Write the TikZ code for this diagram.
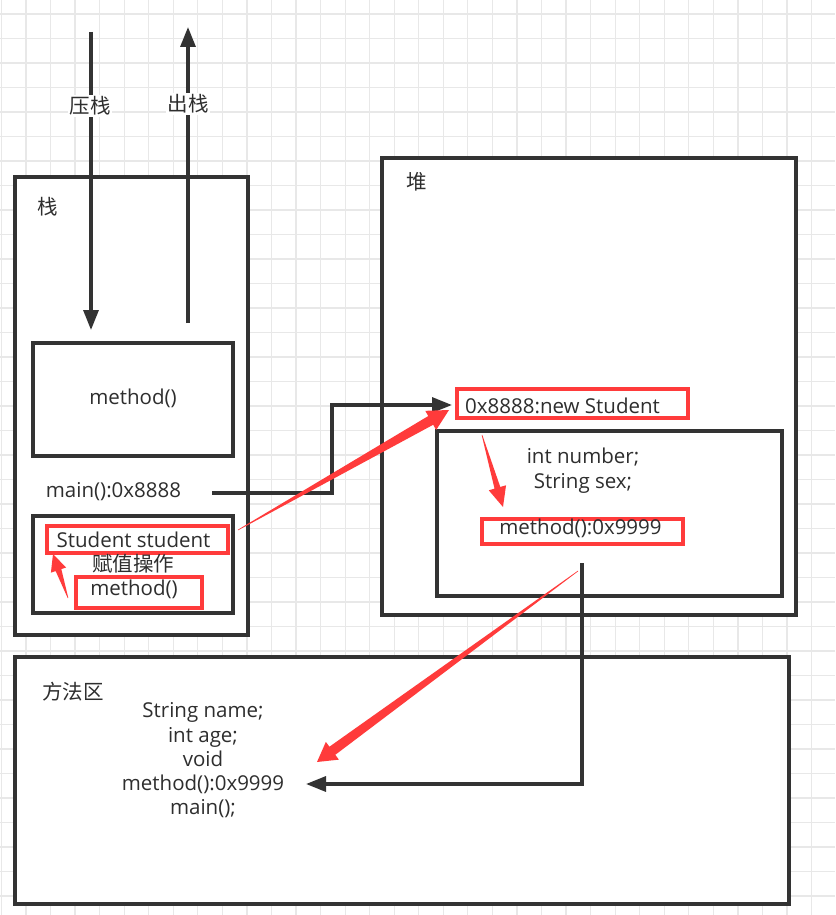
\documentclass[tikz,border=0pt]{standalone}
\usepackage{fontspec}
\setmainfont{Open Sans}
\newfontfamily\cjk{Noto Sans CJK SC}
\usetikzlibrary{calc,arrows.meta}
\definecolor{ink}{HTML}{333333}
\definecolor{txtc}{HTML}{2E2E2E}
\definecolor{redc}{HTML}{FF3B3B}
\definecolor{gridc}{HTML}{E8E8E8}
\tikzset{
  box/.style={draw=ink, line width=3.2pt, fill=white, inner sep=0pt, outer sep=0pt},
  redbox/.style={draw=redc, line width=3.4pt, inner sep=0pt, outer sep=0pt},
  txt/.style={inner sep=0pt, text=txtc, font=\fontsize{20.5}{25}\selectfont, align=center},
  lbl/.style={inner sep=1.5pt, fill=white, text=txtc, font=\fontsize{20.5}{25}\selectfont\cjk},
  conn/.style={draw=ink, line width=3.2pt, -{Triangle[length=20pt,width=15pt]}},
}
\newcommand\taperarrow[6]{%
  \fill[redc] let \p1=($(#2)-(#1)$), \n1={atan2(\y1,\x1)}, \n2={veclen(\x1,\y1)} in
    ($(#1)+(\n1+90:#3)$)
    -- ($(#1)+(\n1:{\n2-#6})+(\n1+90:#4)$)
    -- ($(#1)+(\n1:{\n2-#6})+(\n1+90:#5)$)
    -- (#2)
    -- ($(#1)+(\n1:{\n2-#6})+(\n1-90:#5)$)
    -- ($(#1)+(\n1:{\n2-#6})+(\n1-90:#4)$)
    -- ($(#1)+(\n1-90:#3)$) -- cycle;}
\begin{document}
\begin{tikzpicture}[x=1pt,y=-1pt]
\useasboundingbox (0,0) rectangle (835,915);
\fill[white] (0,0) rectangle (835,915);
% grid
\foreach \i in {0,...,34} \draw[gridc, line width=1.2pt] ({1.4+24.55*\i},0) -- ({1.4+24.55*\i},915);
\foreach \j in {0,...,37} \draw[gridc, line width=1.2pt] (0,{14+24.5*\j}) -- (835,{14+24.5*\j});

% main containers
\node[box, minimum width=233pt, minimum height=458pt] (stack) at (131.5,406) {};
\node[box, minimum width=414pt, minimum height=457pt] (heap) at (589,386.5) {};
\node[box, minimum width=774pt, minimum height=247pt] (marea) at (402,780.5) {};

% stack content
\node[box, minimum width=200pt, minimum height=113pt] (mframe) at (133,399.5) {};
\node[box, minimum width=200pt, minimum height=97pt] (sframe) at (133,564.5) {};
\node[lbl, fill=none, inner sep=0pt] (stacklbl) at (48,207) {栈};
\node[txt] (mtext) at (133,398) {method()};
\node[txt] (maintext) at (113.5,492) {main():0x8888};
\node[redbox, minimum width=181pt, minimum height=27pt] (rstud) at (137.5,539.5) {};
\node[redbox, minimum width=126pt, minimum height=31pt] (rmeth) at (139,592.5) {};
\node[txt] (studtext) at (133.5,540) {Student student};
\node[txt, font=\fontsize{20.5}{25}\selectfont\cjk] (assign) at (133,564) {赋值操作};
\node[txt] (methtext2) at (134,589) {method()};

% heap content
\node[lbl, fill=none, inner sep=0pt] (heaplbl) at (417,182) {堆};
\node[box, minimum width=345pt, minimum height=165pt] (obj) at (609.5,513.5) {};
\node[redbox, minimum width=231pt, minimum height=29pt] (rnew) at (572.5,403.5) {};
\node[txt, anchor=west] (newtext) at (465,406) {0x8888:new Student};
\node[txt] (fields) at (583,470.5) {int number;\\String sex;};
\node[redbox, minimum width=201pt, minimum height=25pt] (rm9) at (582.5,531.5) {};
\node[txt] (m9text) at (580.5,528) {method():0x9999};

% method area content
\node[lbl, fill=none, inner sep=0pt] (malbl) at (73,692) {方法区};
\node[txt, font=\fontsize{20.5}{24.25}\selectfont] (matext) at (203,760.5) {String name;\\int age;\\void\\method():0x9999\\main();};

% push / pop arrows
\coordinate (pushS) at (91,32);
\coordinate (pushE) at (91,330);
\coordinate (popS) at (188,323);
\coordinate (popE) at (188,27);
\draw[conn] (pushS) -- (pushE);
\draw[conn] (popS) -- (popE);
\node[lbl] (pushlbl) at (90,106) {压栈};
\node[lbl] (poplbl) at (188,104) {出栈};

% black connectors
\coordinate (mS) at (212,493);
\coordinate (mB1) at (332,493);
\coordinate (mB2) at (332,405);
\coordinate (mE) at (452,405);
\draw[conn] (mS) -- (mB1) -- (mB2) -- (mE);
\coordinate (hS) at (582,563);
\coordinate (hB) at (582,784);
\coordinate (hE) at (306,784);
\draw[conn] (hS) -- (hB) -- (hE);

% red tapered arrows
\coordinate (raS) at (238,530);
\coordinate (raE) at (449,410);
\taperarrow{raS}{raE}{0.3pt}{5pt}{11pt}{21pt}
\coordinate (rbS) at (578,571);
\coordinate (rbE) at (317,762);
\taperarrow{rbS}{rbE}{0.3pt}{5pt}{11pt}{19pt}
\coordinate (rcS) at (482,435);
\coordinate (rcE) at (503,507);
\taperarrow{rcS}{rcE}{0.3pt}{3pt}{9pt}{20pt}
\coordinate (rdS) at (68,598);
\coordinate (rdE) at (53,554);
\taperarrow{rdS}{rdE}{0.3pt}{3pt}{8pt}{17pt}
\end{tikzpicture}
\end{document}
